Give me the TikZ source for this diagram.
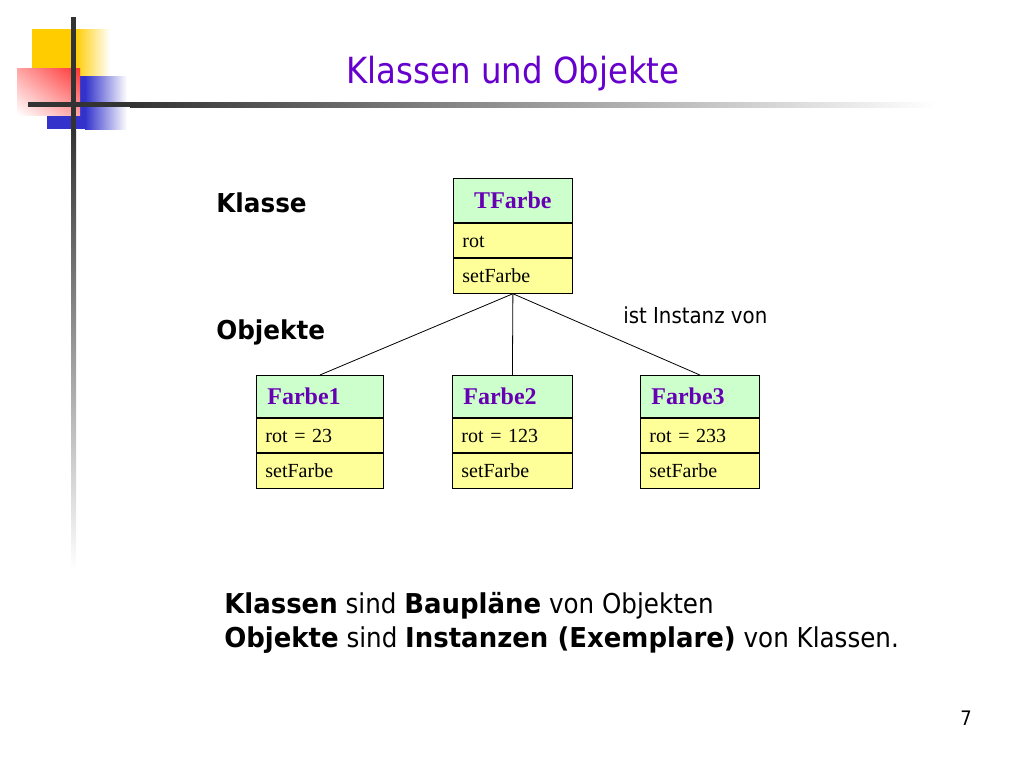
\documentclass[tikz,border=0pt]{standalone}
\usepackage{fontspec}
\setmainfont{Liberation Serif}
\newfontfamily\tahoma[FakeStretch=0.9, BoldFeatures={FakeStretch=0.95}]{DejaVu Sans}
\usetikzlibrary{positioning,shadings}

\definecolor{lila}{RGB}{102,0,204}
\definecolor{kopflila}{RGB}{102,0,178}
\definecolor{kopfgruen}{RGB}{204,255,204}
\definecolor{zeilegelb}{RGB}{255,255,153}
\definecolor{gelb}{RGB}{255,204,0}
\definecolor{rotton}{RGB}{255,51,51}
\definecolor{blau}{RGB}{51,51,204}
\definecolor{balken}{RGB}{51,51,51}

\tikzset{
  kopf/.style={fill=kopfgruen, text=kopflila, font=\fontsize{18}{20}\selectfont\bfseries,
    minimum height=31.5pt, inner xsep=8.25pt, text width=#1, align=left,
    text height=12pt, text depth=0pt},
  zeile/.style={fill=zeilegelb, font=\fontsize{15}{17}\selectfont,
    minimum height=26pt, inner xsep=6.75pt, text width=#1, align=left,
    text height=10pt, text depth=0pt},
}

\begin{document}
\begin{tikzpicture}[x=0.75pt,y=-0.75pt]
  \useasboundingbox (0,0) rectangle (1024,768);

  % Ecke oben links
  \fill[gelb] (32,29) rectangle (75,75);
  \shade[left color=gelb, right color=white] (75,29) rectangle (110,75);
  \fill[blau] (47,76) rectangle (85,129);
  \shade[left color=blau, right color=white] (85,76) rectangle (127,129);
  \shade[upper right=rotton, upper left=rotton!45, lower right=rotton!45, lower left=white]
    (17,68) rectangle (80,115);
  \fill[balken] (28,102) rectangle (130,107);
  \shade[left color=balken, right color=white] (130,102) rectangle (935,107);
  \fill[balken] (71,17) rectangle (76,130);
  \shade[top color=balken, bottom color=white] (71,130) rectangle (76,570);

  \node[font=\tahoma\fontsize{27}{32}\selectfont, text=lila, anchor=base, inner sep=0pt]
    (titel) at (513,83) {Klassen und Objekte};

  \begin{scope}[every node/.style={font=\tahoma\fontsize{19.5}{23}\bfseries\selectfont,
      anchor=base west, inner sep=0pt}]
    \node (klasse)  at (216,212) {Klasse};
    \node (objekte) at (216,339) {Objekte};
  \end{scope}

  \begin{scope}[every node/.style={draw, line width=0.6pt, inner ysep=0pt}]
    \node[kopf=72.75pt, align=center, minimum height=33pt, anchor=north west] (tf) at (453,178) {TFarbe};
    \node[zeile=75.75pt, below=0pt of tf]     (tf-rot) {rot};
    \node[zeile=75.75pt, below=0pt of tf-rot] (tf-set) {setFarbe};

    \node[kopf=78.75pt, anchor=north west] (f1) at (256,375) {Farbe1};
    \node[zeile=81.75pt, below=0pt of f1]     (f1-rot) {rot = 23};
    \node[zeile=81.75pt, below=0pt of f1-rot] (f1-set) {setFarbe};

    \node[kopf=73.5pt, anchor=north west] (f2) at (452,375) {Farbe2};
    \node[zeile=76.5pt, below=0pt of f2]     (f2-rot) {rot = 123};
    \node[zeile=76.5pt, below=0pt of f2-rot] (f2-set) {setFarbe};

    \node[kopf=72.75pt, anchor=north west] (f3) at (640,375) {Farbe3};
    \node[zeile=75.75pt, below=0pt of f3]     (f3-rot) {rot = 233};
    \node[zeile=75.75pt, below=0pt of f3-rot] (f3-set) {setFarbe};
  \end{scope}

  \begin{scope}[every edge/.style={draw, line width=0.6pt}]
    \path (tf-set.south) edge (f1.north);
    \path (tf-set.south) edge (f2.north);
    \path (tf-set.south) edge (f3.north);
  \end{scope}

  \node[font=\tahoma\fontsize{16.5}{20}\selectfont, anchor=base west, inner sep=0pt]
    (instanz) at (623,323) {ist Instanz von};

  \begin{scope}[every node/.style={font=\tahoma\fontsize{20.5}{24}\selectfont,
      anchor=base west, inner sep=0pt}]
    \node (satz1) at (224,613) {\textbf{Klassen} sind \textbf{Baupläne} von Objekten};
    \node (satz2) at (224,647) {\textbf{Objekte} sind \textbf{Instanzen (Exemplare)} von Klassen.};
  \end{scope}

  \node[font=\tahoma\fontsize{15}{18}\selectfont, anchor=base west, inner sep=0pt]
    (seite) at (960,725) {7};

\end{tikzpicture}
\end{document}
